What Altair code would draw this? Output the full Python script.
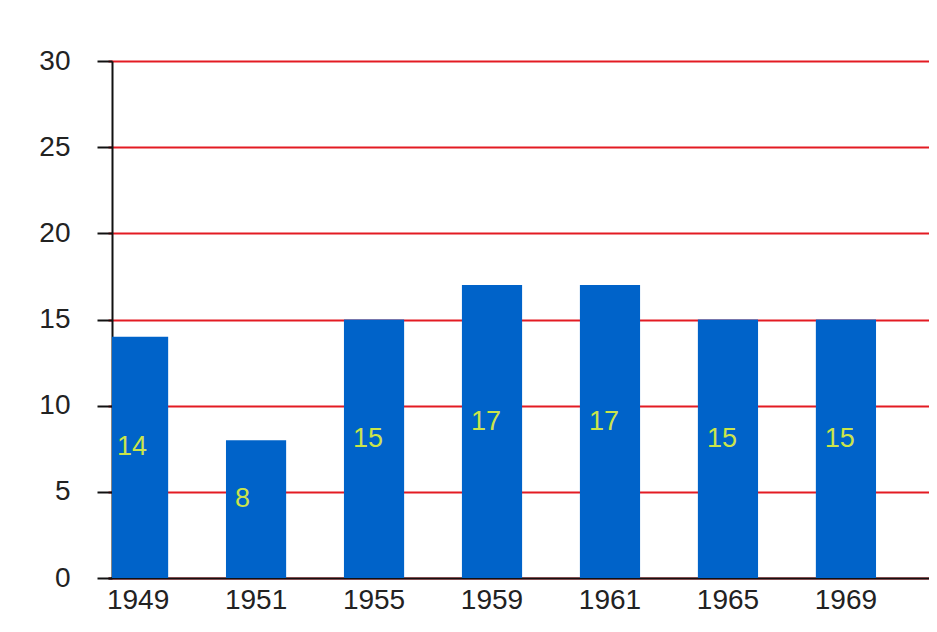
import altair as alt
import pandas as pd

years = ["1949", "1951", "1955", "1959", "1961", "1965", "1969", "1973"]
values = [14, 8, 15, 17, 17, 15, 15, 18]

df = pd.DataFrame({"year": years, "value": values})

FONT = "Liberation Sans"
x_scale = alt.Scale(domain=years, range=[-4, 882], paddingInner=0.49, paddingOuter=0)
y_scale = alt.Scale(domain=[0, 30])

base = alt.Chart(df)

bars = base.mark_bar(color="#0063c9", clip=True).encode(
    x=alt.X("year:N", scale=x_scale, sort=years,
            axis=alt.Axis(title=None, labelAngle=0, ticks=False, grid=False,
                          domainColor="#111", domainWidth=2,
                          labelFont=FONT, labelFontSize=28, labelColor="#222",
                          labelPadding=8)),
    y=alt.Y("value:Q", scale=y_scale,
            axis=alt.Axis(title=None, values=[0, 5, 10, 15, 20, 25, 30],
                          grid=True, gridColor="#e31b23", gridWidth=2,
                          domainColor="#111", domainWidth=2,
                          tickColor="#111", tickWidth=2, tickSize=15,
                          labelFont=FONT, labelFontSize=28, labelColor="#222",
                          labelPadding=27)),
)

labels = base.transform_calculate(mid="datum.value / 2").mark_text(
    align="left", baseline="middle", dx=9, dy=-10,
    font=FONT, fontSize=27, color="#cbe44b",
).encode(
    x=alt.X("year:N", scale=x_scale, sort=years, bandPosition=0),
    y=alt.Y("mid:Q", scale=y_scale),
    text=alt.Text("value:Q"),
)

chart = alt.layer(bars, labels).properties(
    width=817, height=517,
    autosize=alt.AutoSizeParams(type="none"),
    padding={"left": 104, "top": 53, "right": 0, "bottom": 46},
).configure_view(strokeWidth=0)

chart.save("out.html", embed_options={"renderer": "svg", "actions": False})
